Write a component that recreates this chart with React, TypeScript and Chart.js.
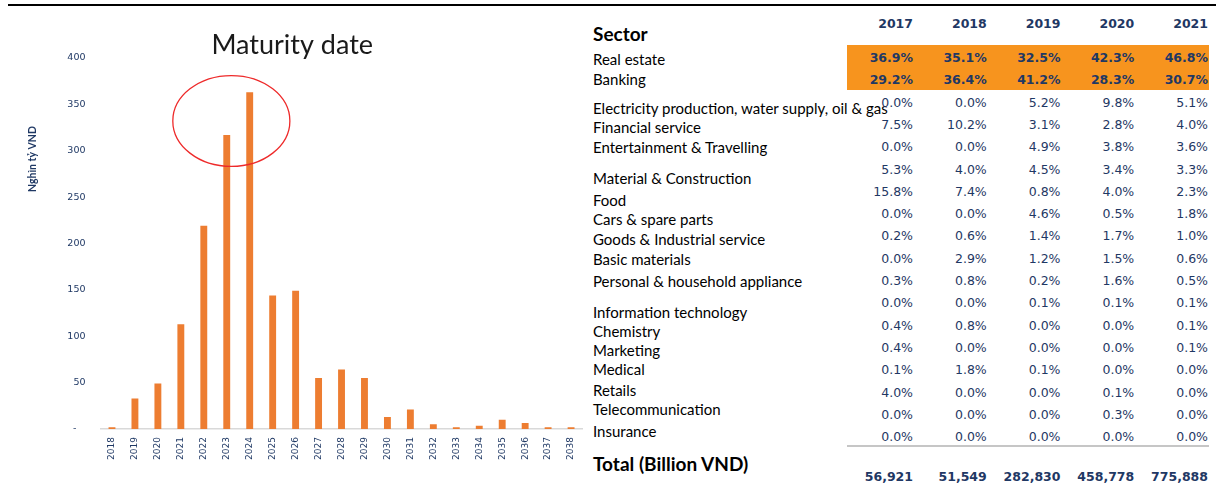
import React, { useEffect, useRef } from 'react';
import { Chart, registerables } from 'chart.js';

Chart.register(...registerables);

// ---------- chart data ----------
const MATURITY_YEARS = [
  '2018', '2019', '2020', '2021', '2022', '2023', '2024', '2025', '2026', '2027', '2028',
  '2029', '2030', '2031', '2032', '2033', '2034', '2035', '2036', '2037', '2038',
];
const MATURITY_VALUES = [2, 33, 49, 113, 219, 317, 363, 144, 149, 55, 64, 55, 13, 21, 5, 2, 3.5, 10, 6.5, 2, 2];
const Y_MIN = 0;
const Y_MAX = 400;
const Y_STEP = 50;
const CHART_TITLE = 'Maturity date';
const Y_TITLE = 'Nghìn tỷ VND';

// highlight ellipse around the 2023-2024 peak (in data units)
const HIGHLIGHT_CENTER_INDEX = 5.2;
const HIGHLIGHT_CENTER_VALUE = 332;
const HIGHLIGHT_HALF_SPAN_CATEGORIES = 2.55;
const HIGHLIGHT_HALF_SPAN_VALUE = 49;

// ---------- table data ----------
const TABLE_HEADER = 'Sector';
const TABLE_YEARS = ['2017', '2018', '2019', '2020', '2021'];
const SECTORS = [
  'Real estate',
  'Banking',
  'Electricity production, water supply, oil & gas',
  'Financial service',
  'Entertainment & Travelling',
  'Material & Construction',
  'Food',
  'Cars & spare parts',
  'Goods & Industrial service',
  'Basic materials',
  'Personal & household appliance',
  'Information technology',
  'Chemistry',
  'Marketing',
  'Medical',
  'Retails',
  'Telecommunication',
  'Insurance',
];
const SHARE_2017 = [36.9, 29.2, 0.0, 7.5, 0.0, 5.3, 15.8, 0.0, 0.2, 0.0, 0.3, 0.0, 0.4, 0.4, 0.1, 4.0, 0.0, 0.0];
const SHARE_2018 = [35.1, 36.4, 0.0, 10.2, 0.0, 4.0, 7.4, 0.0, 0.6, 2.9, 0.8, 0.0, 0.8, 0.0, 1.8, 0.0, 0.0, 0.0];
const SHARE_2019 = [32.5, 41.2, 5.2, 3.1, 4.9, 4.5, 0.8, 4.6, 1.4, 1.2, 0.2, 0.1, 0.0, 0.0, 0.1, 0.0, 0.0, 0.0];
const SHARE_2020 = [42.3, 28.3, 9.8, 2.8, 3.8, 3.4, 4.0, 0.5, 1.7, 1.5, 1.6, 0.1, 0.0, 0.0, 0.0, 0.1, 0.3, 0.0];
const SHARE_2021 = [46.8, 30.7, 5.1, 4.0, 3.6, 3.3, 2.3, 1.8, 1.0, 0.6, 0.5, 0.1, 0.1, 0.1, 0.0, 0.0, 0.0, 0.0];
const TOTAL_LABEL = 'Total (Billion VND)';
const TOTALS = ['56,921', '51,549', '282,830', '458,778', '775,888'];
const HIGHLIGHT_ROWS = 2;

// ---------- layout (positions only) ----------
const LABEL_CENTERS = [59, 79, 108, 127, 147, 178, 200, 219, 239, 259, 281, 312, 331, 350, 369, 390, 409, 431];
const NAVY = '#1F3864';
const ORANGE_BAR = '#ED7D31';

const ellipsePlugin = {
  id: 'highlightEllipse',
  afterDatasetsDraw(chart: any) {
    const xs = chart.scales.x;
    const ys = chart.scales.y;
    const cx = xs.getPixelForValue(HIGHLIGHT_CENTER_INDEX);
    const cy = ys.getPixelForValue(HIGHLIGHT_CENTER_VALUE);
    const catW = xs.getPixelForValue(1) - xs.getPixelForValue(0);
    const rx = HIGHLIGHT_HALF_SPAN_CATEGORIES * catW;
    const ry = Math.abs(ys.getPixelForValue(0) - ys.getPixelForValue(HIGHLIGHT_HALF_SPAN_VALUE));
    const ctx = chart.ctx;
    ctx.save();
    ctx.beginPath();
    ctx.ellipse(cx, cy, rx, ry, 0, 0, Math.PI * 2);
    ctx.strokeStyle = '#EE2A2A';
    ctx.lineWidth = 1.3;
    ctx.stroke();
    ctx.restore();
  },
};

const yTitlePlugin = {
  id: 'yTitleOffset',
  afterDraw(chart: any) {
    const ctx = chart.ctx;
    ctx.save();
    ctx.translate(32.5, 159);
    ctx.rotate(-Math.PI / 2);
    ctx.font = 'bold 10.5px Lato';
    ctx.fillStyle = NAVY;
    ctx.textAlign = 'center';
    ctx.textBaseline = 'middle';
    ctx.fillText(Y_TITLE, 0, 0);
    ctx.restore();
  },
};

function MaturityChart() {
  const ref = useRef<HTMLCanvasElement | null>(null);
  useEffect(() => {
    if (!ref.current) return;
    const chart = new Chart(ref.current, {
      type: 'bar',
      data: {
        labels: MATURITY_YEARS,
        datasets: [
          {
            data: MATURITY_VALUES,
            backgroundColor: ORANGE_BAR,
            borderWidth: 0,
            barPercentage: 0.3,
            categoryPercentage: 1,
          },
        ],
      },
      options: {
        animation: false,
        responsive: false,
        devicePixelRatio: 1,
        layout: { padding: { top: 0, left: 0, right: 5.5, bottom: 0 } },
        plugins: {
          legend: { display: false },
          tooltip: { enabled: false },
          title: {
            display: true,
            text: CHART_TITLE,
            color: '#1a1a1a',
            font: { family: 'Lato', size: 27, weight: 'normal', lineHeight: 0.9 },
            padding: { top: 33.6, bottom: 0 },
          },
        },
        scales: {
          x: {
            grid: { display: false, drawTicks: false },
            border: { display: true, color: '#d9d9d9', width: 1.5 },
            ticks: {
              minRotation: 90,
              maxRotation: 90,
              autoSkip: false,
              padding: 8,
              color: NAVY,
              font: { family: 'DejaVu Sans', size: 9 },
            },
            afterFit: (s: any) => {
              s.height = 63;
            },
          },
          y: {
            min: Y_MIN,
            max: Y_MAX,
            grid: { display: false, drawTicks: false },
            border: { display: false },
            ticks: {
              stepSize: Y_STEP,
              padding: 15,
              color: NAVY,
              font: { family: 'DejaVu Sans', size: 9.5 },
              callback: (v: any) => (Number(v) === 0 ? '-   ' : String(v)),
            },
            afterFit: (s: any) => {
              s.width = 100.5;
            },
          },
        },
      },
      plugins: [ellipsePlugin, yTitlePlugin],
    });
    return () => chart.destroy();
  }, []);
  return <canvas ref={ref} width={590} height={492} style={{ position: 'absolute', left: 0, top: 0 }} />;
}

const fmtPct = (v: number) => v.toFixed(1) + '%';

export default function App() {
  const columns = [SHARE_2017, SHARE_2018, SHARE_2019, SHARE_2020, SHARE_2021];
  const colRight = (c: number) => 913 + c * 73.75;
  const rowCenter = (i: number) => 58 + i * 22.3;
  const labelFont = 'Lato, "Open Sans", sans-serif';
  const numFont = '"DejaVu Sans", Verdana, sans-serif';
  return (
    <div
      style={{
        position: 'fixed',
        left: 0,
        top: 0,
        width: 1216,
        height: 492,
        background: '#fff',
        overflow: 'hidden',
      }}
    >
      <div style={{ position: 'absolute', left: 8, top: 4, right: 0, height: 2, background: '#000' }} />
      <MaturityChart />

      {/* orange highlight band and bottom rule */}
      <div style={{ position: 'absolute', left: 847, top: 44.5, width: 362, height: 45, background: '#F7941E' }} />
      <div style={{ position: 'absolute', left: 847, top: 445, width: 362, height: 2, background: '#c6c6c6' }} />

      <div
        style={{
          position: 'absolute',
          left: 593,
          top: 21.5,
          height: 24,
          lineHeight: '24px',
          fontFamily: labelFont,
          fontWeight: 'bold',
          fontSize: 19,
          color: '#000',
          whiteSpace: 'nowrap',
        }}
      >
        {TABLE_HEADER}
      </div>

      {SECTORS.map((s, i) => (
        <div
          key={s}
          style={{
            position: 'absolute',
            left: 593,
            top: LABEL_CENTERS[i] - 10,
            height: 20,
            lineHeight: '20px',
            fontFamily: labelFont,
            fontSize: 15,
            color: '#000',
            whiteSpace: 'nowrap',
          }}
        >
          {s}
        </div>
      ))}

      {TABLE_YEARS.map((y, c) => (
        <div
          key={y}
          style={{
            position: 'absolute',
            left: colRight(c) - 70,
            width: 70,
            top: 24 - 9,
            height: 18,
            lineHeight: '18px',
            textAlign: 'right',
            fontFamily: numFont,
            fontWeight: 'bold',
            fontSize: 12.5,
            color: NAVY,
          }}
        >
          {y}
        </div>
      ))}

      {columns.map((col, c) =>
        col.map((v, i) => (
          <div
            key={c + '-' + i}
            style={{
              position: 'absolute',
              left: colRight(c) - 70,
              width: 70,
              top: rowCenter(i) - 9,
              height: 18,
              lineHeight: '18px',
              textAlign: 'right',
              fontFamily: numFont,
              fontWeight: i < HIGHLIGHT_ROWS ? 'bold' : 'normal',
              fontSize: 12.5,
              color: NAVY,
            }}
          >
            {fmtPct(v)}
          </div>
        )),
      )}

      <div
        style={{
          position: 'absolute',
          left: 593,
          top: 464 - 12,
          height: 24,
          lineHeight: '24px',
          fontFamily: labelFont,
          fontWeight: 'bold',
          fontSize: 19,
          color: '#000',
          whiteSpace: 'nowrap',
        }}
      >
        {TOTAL_LABEL}
      </div>

      {TOTALS.map((t, c) => (
        <div
          key={'t' + c}
          style={{
            position: 'absolute',
            left: colRight(c) - 70,
            width: 70,
            top: 477 - 9,
            height: 18,
            lineHeight: '18px',
            textAlign: 'right',
            fontFamily: numFont,
            fontWeight: 'bold',
            fontSize: 12.5,
            color: NAVY,
          }}
        >
          {t}
        </div>
      ))}
    </div>
  );
}
